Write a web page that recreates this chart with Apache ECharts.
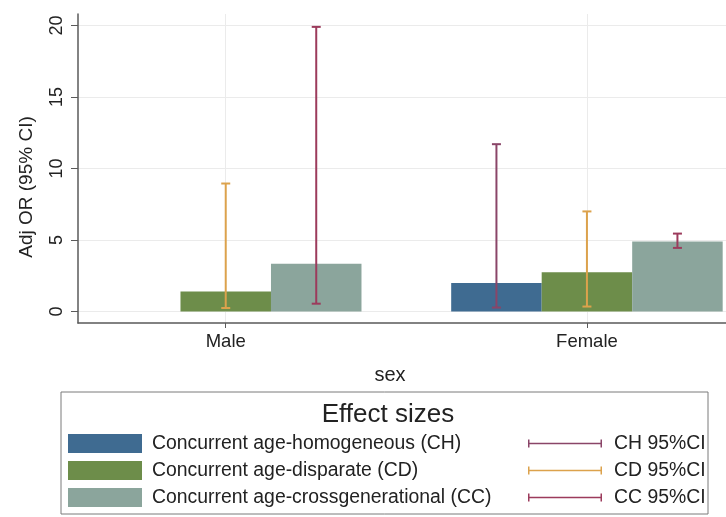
<!DOCTYPE html>
<html><head><meta charset="utf-8">
<script src="https://cdn.jsdelivr.net/npm/echarts@6/dist/echarts.min.js"></script>
<style>html,body{margin:0;padding:0;background:#fff}#c{width:726px;height:517px}</style>
</head><body><div id="c"></div>
<script>
// ---- data ----
const categories = ['Male', 'Female'];
const categoryPositions = [1, 2];
const barNames = ['Concurrent age-homogeneous (CH)', 'Concurrent age-disparate (CD)', 'Concurrent age-crossgenerational (CC)'];
const ciNames = ['CH 95%CI', 'CD 95%CI', 'CC 95%CI'];
const chValues = [null, 2.0];
const cdValues = [1.4, 2.75];
const ccValues = [3.35, 4.9];
const chLower = [null, 0.28];
const chUpper = [null, 11.7];
const cdLower = [0.25, 0.35];
const cdUpper = [8.95, 7.0];
const ccLower = [0.55, 4.45];
const ccUpper = [19.9, 5.45];
const yTicks = [0, 5, 10, 15, 20];

// ---- style ----
const FONT = '"Liberation Sans", Arial, sans-serif';
const BAR_W = 90.5;
const barColors = ['#3f6b91', '#6d8d4a', '#8ba59c'];
const ciColors = ['#8a4568', '#dca24c', '#9c3b5c'];

function barData(vals) {
  return vals.map((v, i) => v == null ? null : [categoryPositions[i], v]).filter(d => d);
}
function errorSeries(name, color, lo, hi, k) {
  const data = lo.map((l, i) => l == null ? null : [categoryPositions[i], l, hi[i]]).filter(d => d);
  return {
    type: 'custom', name: name, z: 5,
    itemStyle: { color: color },
    encode: { x: 0, y: [1, 2] },
    data: data,
    renderItem: function (params, api) {
      const x = api.value(0);
      const pLo = api.coord([x, api.value(1)]);
      const pHi = api.coord([x, api.value(2)]);
      const cx = pLo[0] + k * BAR_W;
      const cap = 4.5;
      const style = { stroke: color, lineWidth: 2, fill: null };
      return { type: 'group', children: [
        { type: 'line', shape: { x1: cx, y1: pLo[1], x2: cx, y2: pHi[1] }, style: style },
        { type: 'line', shape: { x1: cx - cap, y1: pLo[1], x2: cx + cap, y2: pLo[1] }, style: style },
        { type: 'line', shape: { x1: cx - cap, y1: pHi[1], x2: cx + cap, y2: pHi[1] }, style: style }
      ]};
    }
  };
}

const chart = echarts.init(document.getElementById('c'), null, { renderer: 'canvas' });
const axisColor = '#5a5a5a';
const gridColor = '#ebebeb';
const ciIcon = 'path://M0,0h1.5v8h-1.5z M0,3.25h74v1.5h-74z M72.5,0h1.5v8h-1.5z';

chart.setOption({
  animation: false,
  backgroundColor: '#fff',
  textStyle: { fontFamily: FONT },
  grid: { left: 78, right: 0, top: 14, bottom: 194 },
  xAxis: {
    type: 'value', min: 0.591, max: 2.385,
    axisLine: { show: true, onZero: false, lineStyle: { color: axisColor, width: 1.5 } },
    axisTick: { show: true, customValues: categoryPositions, length: 5, lineStyle: { color: axisColor } },
    axisLabel: { customValues: categoryPositions, fontSize: 18.5, color: '#222', margin: 9,
      formatter: v => categories[categoryPositions.indexOf(v)] },
    splitLine: { show: true, lineStyle: { color: gridColor, width: 1 } }
  },
  yAxis: {
    type: 'value', min: -0.8, max: 20.8,
    axisLine: { show: true, onZero: false, lineStyle: { color: axisColor, width: 1.5 } },
    axisTick: { show: true, customValues: yTicks, length: 7, lineStyle: { color: axisColor } },
    axisLabel: { customValues: yTicks, rotate: 90, fontSize: 18, color: '#222', margin: 12 },
    splitLine: { show: true, lineStyle: { color: gridColor, width: 1 } }
  },
  legend: [
    {
      data: barNames, orient: 'vertical', left: 68, top: 434, padding: 0,
      itemWidth: 74, itemHeight: 19, itemGap: 8, icon: 'rect',
      textStyle: { fontSize: 19.4, color: '#222', lineHeight: 19, padding: [0, 0, 0, 5] },
      selectedMode: false
    },
    {
      data: ciNames.map(n => ({ name: n, icon: ciIcon })), orient: 'vertical', left: 528, top: 434, padding: 0,
      itemWidth: 74, itemHeight: 8, itemGap: 8,
      textStyle: { fontSize: 19.4, color: '#222', lineHeight: 19, padding: [0, 0, 0, 7] },
      selectedMode: false
    }
  ],
  graphic: [
    { type: 'rect', shape: { x: 61, y: 392, width: 647, height: 122 }, style: { fill: null, stroke: '#7a7a7a', lineWidth: 1 } },
    { type: 'text', x: 388, y: 415, style: { text: 'Effect sizes', font: '26px ' + FONT, fill: '#222', textAlign: 'center', textVerticalAlign: 'middle' } },
    { type: 'text', x: 390, y: 375, style: { text: 'sex', font: '20px ' + FONT, fill: '#222', textAlign: 'center', textVerticalAlign: 'middle' } },
    { type: 'text', x: 27, y: 187, rotation: Math.PI / 2, style: { text: 'Adj OR (95% CI)', font: '19px ' + FONT, fill: '#222', textAlign: 'center', textVerticalAlign: 'middle' } }
  ],
  series: [
    { type: 'bar', name: barNames[0], data: barData(chValues), barWidth: BAR_W, barGap: '0%', itemStyle: { color: barColors[0] } },
    { type: 'bar', name: barNames[1], data: barData(cdValues), barWidth: BAR_W, barGap: '0%', itemStyle: { color: barColors[1] } },
    { type: 'bar', name: barNames[2], data: barData(ccValues), barWidth: BAR_W, barGap: '0%', itemStyle: { color: barColors[2] } },
    errorSeries(ciNames[0], ciColors[0], chLower, chUpper, -1),
    errorSeries(ciNames[1], ciColors[1], cdLower, cdUpper, 0),
    errorSeries(ciNames[2], ciColors[2], ccLower, ccUpper, 1)
  ]
});
</script></body></html>
